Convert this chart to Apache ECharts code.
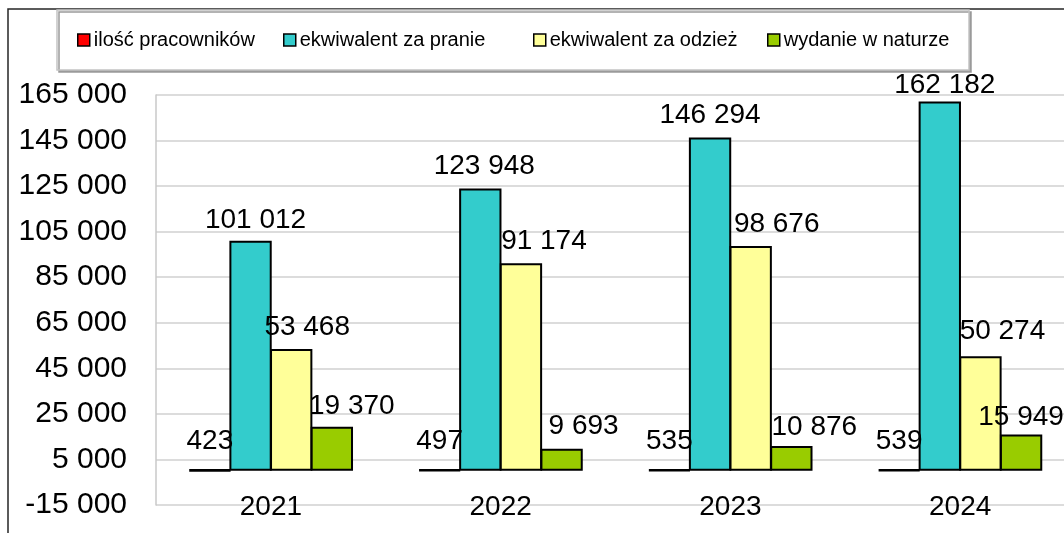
<!DOCTYPE html>
<html>
<head>
<meta charset="utf-8">
<script src="https://cdn.jsdelivr.net/npm/echarts@6/dist/echarts.min.js"></script>
<style>
  html, body { margin: 0; padding: 0; background: #fff; }
  #chart { width: 1064px; height: 533px; }
</style>
</head>
<body>
<div id="chart"></div>
<script>
  // dane z wykresu
  const years = ['2021', '2022', '2023', '2024'];
  const seriesNames = ['ilość pracowników', 'ekwiwalent za pranie', 'ekwiwalent za odzież', 'wydanie w naturze'];
  const iloscPracownikow = [423, 497, 535, 539];
  const ekwPranie = [101012, 123948, 146294, 162182];
  const ekwOdziez = [53468, 91174, 98676, 50274];
  const wydanieNatura = [19370, 9693, 10876, 15949];
  const yTicks = { min: -15000, max: 165000, step: 20000 };

  const colors = ['#FF0000', '#33CCCC', '#FFFF99', '#99CC00'];
  // przesunięcia etykiet (jak w oryginale, ręcznie przesunięte)
  const labelDx = [[0, 0, 0, 0], [5, 4, 0, 5], [16, 23, 26, 22], [20, 22, 23, 0]];
  const labelDy = [[-6, -6, -6, -6], [2, 0, 0, 6], [0, 0, 0, -3], [2, 0, 3, 5]];
  // pozycje legendy (x ikony)
  const legendX = [77, 283, 533, 767];

  const font = 'Liberation Sans, Arial, sans-serif';
  function fmt(v) {
    return String(v).replace(/\B(?=(\d{3})+(?!\d))/g, ' ');
  }

  const values = [iloscPracownikow, ekwPranie, ekwOdziez, wydanieNatura];

  let myChart = echarts.init(document.getElementById('chart'));
  myChart.setOption({
    animation: false,
    textStyle: { fontFamily: font },
    graphic: [{
      type: 'rect',
      shape: { x: 8, y: 9, width: 1100, height: 600 },
      style: { fill: 'none', stroke: '#262626', lineWidth: 1.5 },
      silent: true
    }, {
      type: 'rect',
      shape: { x: 57, y: 10, width: 912, height: 60 },
      style: { fill: '#fff', stroke: '#c4c4c4', lineWidth: 1.5, shadowColor: '#9a9a9a', shadowOffsetX: 2, shadowOffsetY: 2, shadowBlur: 0 },
      silent: true,
      z: 0
    }],
    legend: seriesNames.map(function (name, i) {
      return {
        data: [name],
        left: legendX[i],
        top: 30,
        padding: 0,
        icon: 'rect',
        itemWidth: 12,
        itemHeight: 12,
        z: 5,
        itemStyle: { borderColor: '#000', borderWidth: 1.5 },
        textStyle: { fontSize: 20, color: '#000', fontFamily: font, padding: [0, 0, 0, -1] }
      };
    }),
    grid: { left: 156, top: 95, right: -11, bottom: 28, outerBoundsMode: 'none' },
    xAxis: {
      type: 'category',
      data: years,
      axisLine: { show: false, onZero: false },
      axisTick: { show: false },
      axisLabel: { margin: -12, fontSize: 28, color: '#000', fontFamily: font }
    },
    yAxis: {
      type: 'value',
      min: yTicks.min,
      max: yTicks.max,
      interval: yTicks.step,
      axisLine: { show: true, lineStyle: { color: '#c8c8c8', width: 1.5 } },
      axisTick: { show: false },
      splitLine: { lineStyle: { color: '#d0d0d0', width: 1.5 } },
      axisLabel: { margin: 29, fontSize: 30, color: '#000', fontFamily: font, formatter: fmt }
    },
    series: seriesNames.map(function (name, s) {
      return {
        name: name,
        type: 'bar',
        barGap: '-4%',
        barCategoryGap: '28.5%',
        itemStyle: { color: colors[s], borderColor: '#000', borderWidth: s === 0 ? 2.6 : 2 },
        label: {
          show: true,
          position: 'top',
          distance: 8,
          fontSize: 28,
          color: '#000',
          fontFamily: font,
          formatter: function (p) { return fmt(p.value); }
        },
        data: values[s].map(function (v, i) {
          return { value: v, label: { offset: [labelDx[s][i], labelDy[s][i]] } };
        })
      };
    })
  });
</script>
</body>
</html>
